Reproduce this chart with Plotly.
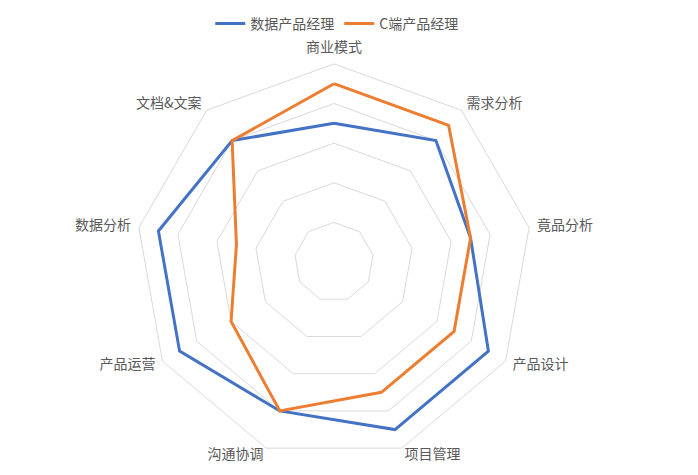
import plotly.graph_objects as go

# radar axes, clockwise from top
categories = ["商业模式", "需求分析", "竟品分析", "产品设计", "项目管理",
              "沟通协调", "产品运营", "数据分析", "文档&文案"]
data_pm = [3.5, 4, 3.5, 4.5, 4.5, 4, 4.5, 4.5, 4]
c_pm = [4.5, 4.5, 3.5, 3.5, 3.5, 4, 3, 2.5, 4]

series = [("数据产品经理", data_pm, "#4472C4"),
          ("C端产品经理", c_pm, "#ED7D31")]

# excel-like label anchoring around the outer ring
label_pos = ["top center", "middle right", "middle right", "middle right",
             "middle right", "middle left", "middle left", "middle left",
             "middle left"]
label_r = 5.2
r_max = 5.3  # a bit of room past the outer ring for the labels

fig = go.Figure()
for name, vals, color in series:
    # close the polygon
    fig.add_trace(go.Scatterpolar(
        r=vals + vals[:1],
        theta=categories + categories[:1],
        mode="lines",
        name=name,
        line=dict(color=color, width=3),
    ))

fig.add_trace(go.Scatterpolar(
    r=[label_r] * len(categories),
    theta=categories,
    mode="text",
    text=categories,
    textposition=label_pos,
    textfont=dict(size=14, color="#595959"),
    showlegend=False,
    hoverinfo="skip",
    cliponaxis=False,
))

fig.update_layout(
    width=698, height=475,
    paper_bgcolor="white",
    font=dict(family="Noto Sans CJK SC", size=14, color="#595959"),
    margin=dict(l=53, r=99, t=44, b=11),
    showlegend=True,
    legend=dict(orientation="h", xref="container", x=0.471, xanchor="center",
                yref="container", y=1, yanchor="top",
                font=dict(size=14, color="#595959"), itemwidth=30),
    polar=dict(
        bgcolor="white",
        gridshape="linear",
        radialaxis=dict(range=[0, r_max], tickvals=[1, 2, 3, 4, 5],
                        showticklabels=False, showline=False, ticks="",
                        gridcolor="#d9d9d9", gridwidth=1),
        angularaxis=dict(rotation=90, direction="clockwise",
                         showgrid=False, showline=False, ticks="",
                         showticklabels=False),
    ),
)

fig.write_html("out.html")
